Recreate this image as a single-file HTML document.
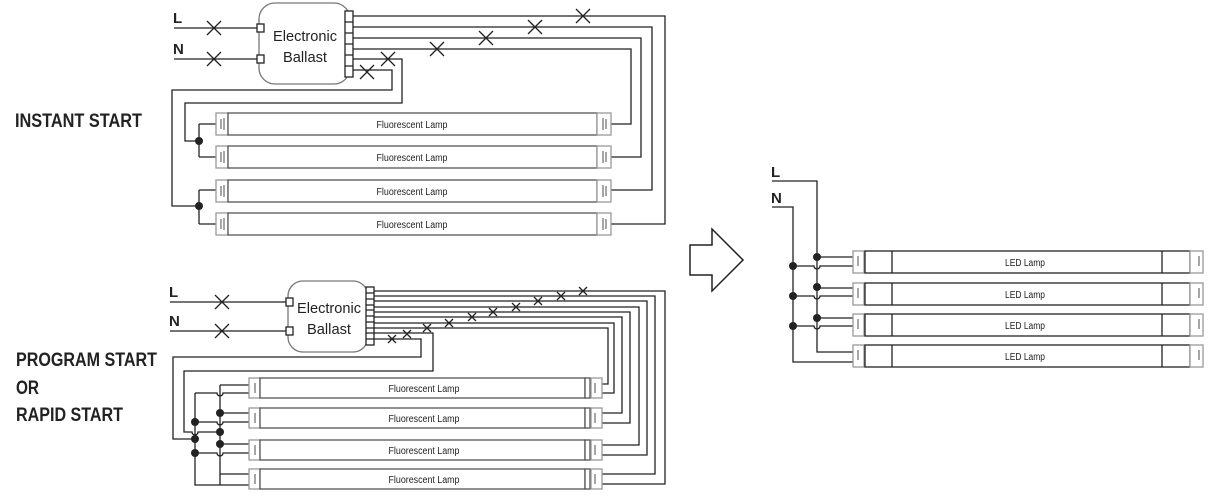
<!DOCTYPE html>
<html><head><meta charset="utf-8"><style>
html,body{margin:0;padding:0;background:#fff;}
svg{display:block;}
text{font-family:"Liberation Sans",sans-serif;fill:#222;}
</style></head><body>
<svg width="1213" height="500" viewBox="0 0 1213 500" xmlns="http://www.w3.org/2000/svg">
<g fill="none" stroke="#222" stroke-width="1.3">
<!-- TOP DIAGRAM -->
<path d="M174 28H257M174 59H257"/>
<path d="M207 21l14 14M221 21l-14 14M207 52l14 14M221 52l-14 14"/>
<rect x="259" y="3" width="91" height="81" rx="16" stroke="#777"/>
<rect x="257" y="24" width="7" height="8" fill="#fff"/>
<rect x="257" y="55" width="7" height="8" fill="#fff"/>
<rect x="345" y="11" width="8" height="66" fill="#fff"/>
<path d="M345 22H353M345 33H353M345 44H353M345 55H353M345 66H353"/>
<path d="M353 16H665V224H611M353 27H652V190H611M353 38H641V157H611M353 49H631V124H611"/>
<path d="M353 59H402V103H185V141H199M353 70H392V90H172V206H199"/>
<path d="M199 124V157M199 124H216M199 157H216M199 190V224M199 190H216M199 224H216"/>
<path d="M576 9l14 14M590 9l-14 14M528 20l14 14M542 20l-14 14M479 31l14 14M493 31l-14 14M430 42l14 14M444 42l-14 14M381 52l14 14M395 52l-14 14M360 65l14 14M374 65l-14 14"/>
</g>
<g fill="#222"><circle cx="199" cy="141" r="4"/><circle cx="199" cy="206" r="4"/></g>
<g stroke-width="1.3">
<g id="tl"><rect x="216" y="113" width="12" height="22" fill="#fff" stroke="#999"/><rect x="228" y="113" width="369" height="22" fill="#fff" stroke="#555"/><rect x="597" y="113" width="14" height="22" fill="#fff" stroke="#999"/><path d="M221 119v10M224 118v12M603 118v12M606 119v10" stroke="#777"/></g>
<use href="#tl" y="33"/><use href="#tl" y="67"/><use href="#tl" y="100"/>
</g>
<g font-size="10" text-anchor="middle">
<text x="412" y="128" textLength="71" lengthAdjust="spacingAndGlyphs">Fluorescent Lamp</text>
<text x="412" y="161" textLength="71" lengthAdjust="spacingAndGlyphs">Fluorescent Lamp</text>
<text x="412" y="195" textLength="71" lengthAdjust="spacingAndGlyphs">Fluorescent Lamp</text>
<text x="412" y="228" textLength="71" lengthAdjust="spacingAndGlyphs">Fluorescent Lamp</text>
</g>
<text x="305" y="41" font-size="15" text-anchor="middle" textLength="64" lengthAdjust="spacingAndGlyphs">Electronic</text>
<text x="305" y="62" font-size="15" text-anchor="middle" textLength="44" lengthAdjust="spacingAndGlyphs">Ballast</text>
<text x="173" y="23" font-size="15" font-weight="bold">L</text>
<text x="173" y="54" font-size="15" font-weight="bold">N</text>

<!-- BOTTOM DIAGRAM -->
<g fill="none" stroke="#222" stroke-width="1.3">
<path d="M170 302H288M170 331H288"/>
<path d="M215 295l14 14M229 295l-14 14M215 324l14 14M229 324l-14 14"/>
<rect x="288" y="281" width="80" height="71" rx="15" stroke="#777"/>
<rect x="286" y="298" width="7" height="8" fill="#fff"/>
<rect x="286" y="327" width="7" height="8" fill="#fff"/>
<rect x="366" y="287" width="8" height="58" fill="#fff"/>
<path d="M366 293H374M366 299H374M366 305H374M366 310H374M366 316H374M366 322H374M366 328H374M366 333H374M366 339H374"/>
<path d="M374 291H665V484H602M374 296H655V474H602M374 301H647V455H602M374 307H639V445H602M374 312H630V423H602M374 317H622V413H602M374 323H614V393H602M374 328H608V384H602"/>
<path d="M374 333H433V371H184V432H192a3 3 0 0 0 6 0H220M374 339H421V357H173V439H195"/>
<path d="M220 385V485M220 385H249M220 485H249M195 393H217a3 3 0 0 0 6 0H249M195 393V485H249"/>
<path d="M220 413H249M195 422H217a3 3 0 0 0 6 0H249M220 444H249M195 453H217a3 3 0 0 0 6 0H249M220 474H249"/>
<path d="M579 287l8 8M587 287l-8 8M557 292l8 8M565 292l-8 8M534 297l8 8M542 297l-8 8M512 303l8 8M520 303l-8 8M489 308l8 8M497 308l-8 8M468 313l8 8M476 313l-8 8M445 319l8 8M453 319l-8 8M423 324l8 8M431 324l-8 8M403 330l8 8M411 330l-8 8M388 335l8 8M396 335l-8 8"/>
</g>
<g fill="#222"><circle cx="220" cy="413" r="4"/><circle cx="220" cy="432" r="4"/><circle cx="220" cy="444" r="4"/><circle cx="195" cy="422" r="4"/><circle cx="195" cy="439" r="4"/><circle cx="195" cy="453" r="4"/></g>
<g stroke-width="1.3">
<g id="bl"><rect x="249" y="378" width="11" height="20" fill="#fff" stroke="#999"/><rect x="260" y="378" width="325" height="20" fill="#fff" stroke="#555"/><rect x="585" y="378" width="5" height="20" fill="#fff" stroke="#555"/><rect x="591" y="378" width="11" height="20" fill="#fff" stroke="#999"/><path d="M255 383v10M595 383v10" stroke="#777"/></g>
<use href="#bl" y="30"/><use href="#bl" y="62"/><use href="#bl" y="91"/>
</g>
<g font-size="10" text-anchor="middle">
<text x="424" y="392" textLength="71" lengthAdjust="spacingAndGlyphs">Fluorescent Lamp</text>
<text x="424" y="422" textLength="71" lengthAdjust="spacingAndGlyphs">Fluorescent Lamp</text>
<text x="424" y="454" textLength="71" lengthAdjust="spacingAndGlyphs">Fluorescent Lamp</text>
<text x="424" y="483" textLength="71" lengthAdjust="spacingAndGlyphs">Fluorescent Lamp</text>
</g>
<text x="329" y="313" font-size="15" text-anchor="middle" textLength="64" lengthAdjust="spacingAndGlyphs">Electronic</text>
<text x="329" y="334" font-size="15" text-anchor="middle" textLength="44" lengthAdjust="spacingAndGlyphs">Ballast</text>
<text x="169" y="297" font-size="15" font-weight="bold">L</text>
<text x="169" y="326" font-size="15" font-weight="bold">N</text>

<!-- Section labels -->
<g font-size="19" font-weight="bold" fill="#111">
<text x="15" y="127" textLength="127" lengthAdjust="spacingAndGlyphs">INSTANT START</text>
<text x="16" y="366" textLength="141" lengthAdjust="spacingAndGlyphs">PROGRAM START</text>
<text x="16" y="394" textLength="23" lengthAdjust="spacingAndGlyphs">OR</text>
<text x="16" y="421" textLength="107" lengthAdjust="spacingAndGlyphs">RAPID START</text>
</g>

<!-- Arrow -->
<path d="M690 245H712V229L743 260L712 291V275H690Z" fill="#fff" stroke="#222" stroke-width="1.5"/>

<!-- RIGHT LED DIAGRAM -->
<text x="771" y="177" font-size="15" font-weight="bold">L</text>
<text x="771" y="203" font-size="15" font-weight="bold">N</text>
<g fill="none" stroke="#222" stroke-width="1.3">
<path d="M772 181H817V352H853M772 207H793V362H853"/>
<path d="M817 257H853M793 266H814a3 3 0 0 0 6 0H853M817 288H853M793 296H814a3 3 0 0 0 6 0H853M817 318H853M793 326H814a3 3 0 0 0 6 0H853"/>
</g>
<g fill="#222"><circle cx="817" cy="257" r="4"/><circle cx="817" cy="287" r="4"/><circle cx="817" cy="318" r="4"/><circle cx="793" cy="266" r="4"/><circle cx="793" cy="296" r="4"/><circle cx="793" cy="326" r="4"/></g>
<g stroke-width="1.3">
<g id="ll"><rect x="853" y="251" width="11" height="22" fill="#fff" stroke="#999"/><rect x="865" y="251" width="325" height="22" fill="#fff" stroke="#222"/><path d="M892 251v22M1162 251v22" stroke="#222"/><rect x="1190" y="251" width="13" height="22" fill="#fff" stroke="#999"/><path d="M858 256v10M1199 256v10" stroke="#777"/></g>
<use href="#ll" y="32"/><use href="#ll" y="63"/><use href="#ll" y="94"/>
</g>
<g font-size="10" text-anchor="middle">
<text x="1025" y="266" textLength="40" lengthAdjust="spacingAndGlyphs">LED Lamp</text>
<text x="1025" y="298" textLength="40" lengthAdjust="spacingAndGlyphs">LED Lamp</text>
<text x="1025" y="329" textLength="40" lengthAdjust="spacingAndGlyphs">LED Lamp</text>
<text x="1025" y="360" textLength="40" lengthAdjust="spacingAndGlyphs">LED Lamp</text>
</g>
</svg>
</body></html>
